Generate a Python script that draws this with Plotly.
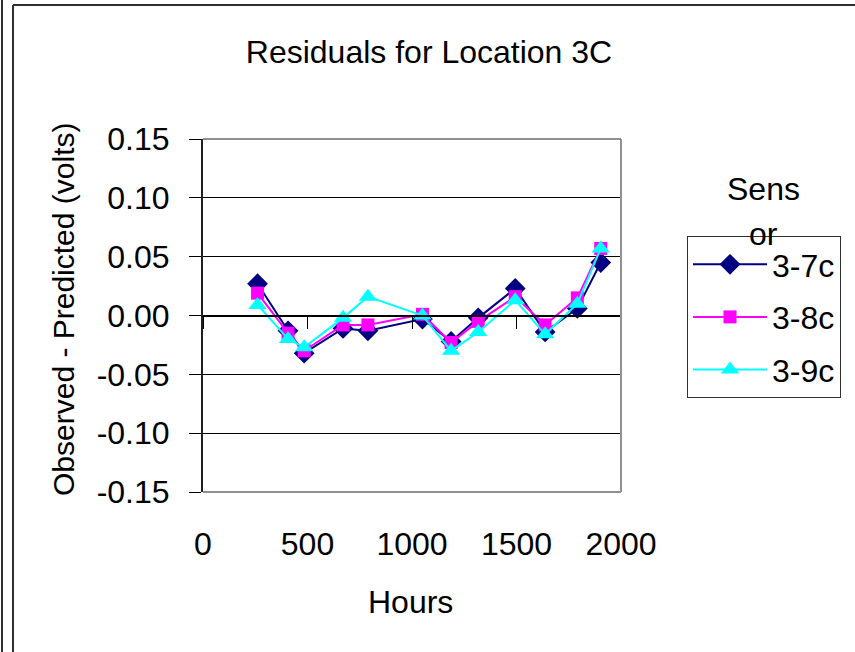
import plotly.graph_objects as go

hours = [261, 407, 484, 670, 789, 1050, 1187, 1317, 1494, 1637, 1791, 1903]
s37 = [0.027, -0.013, -0.032, -0.011, -0.013, -0.003, -0.022, -0.002, 0.023, -0.014, 0.006, 0.045]
s38 = [0.019, -0.015, -0.030, -0.008, -0.008, 0.001, -0.023, -0.005, 0.016, -0.008, 0.015, 0.057]
s39 = [0.009, -0.020, -0.027, -0.002, 0.016, 0.000, -0.030, -0.014, 0.013, -0.016, 0.010, 0.057]
series_names = ["3-7c", "3-8c", "3-9c"]
x_ticks = [0, 500, 1000, 1500, 2000]
y_ticks = [-0.15, -0.10, -0.05, 0.00, 0.05, 0.10, 0.15]
y_ticktext = ["-0.15", "-0.10", "-0.05", "0.00", "0.05", "0.10", "0.15"]

W, H = 855, 652
L, R, T, B = 203, 621, 139, 492
FONT = "Liberation Sans, Arial, sans-serif"
FS = 32


def px_x(p):
    return (p - L) / (R - L)


def px_y(p):
    return (B - p) / (B - T)


fig = go.Figure()
styles = [
    dict(color="#000080", symbol="diamond", size=16),
    dict(color="#FF00FF", symbol="square", size=13),
    dict(color="#00FFFF", symbol="triangle-up", size=16),
]
for i, (name, ys) in enumerate(zip(series_names, [s37, s38, s39])):
    st = styles[i]
    fig.add_trace(go.Scatter(
        x=hours, y=ys, name=name, mode="lines+markers",
        line=dict(color=st["color"], width=2),
        marker=dict(color=st["color"], symbol=st["symbol"], size=st["size"], line=dict(width=0)),
        legendgroup=name,
    ))

# dummy trace so the zero-crossing axis is drawn
fig.add_trace(go.Scatter(x=[], y=[], xaxis="x2", showlegend=False, hoverinfo="skip"))

fig.update_layout(
    width=W, height=H,
    margin=dict(l=L, r=W - R, t=T, b=H - B, pad=0),
    paper_bgcolor="white", plot_bgcolor="white",
    font=dict(family=FONT, size=FS, color="black"),
    showlegend=True,
    title=dict(text="Residuals for Location 3C", x=px_x(429), xref="paper", xanchor="center",
               y=1 - 52 / H, yref="container", yanchor="middle",
               font=dict(family=FONT, size=FS, color="black")),
    xaxis=dict(range=[0, 2000], tickvals=x_ticks, ticktext=[str(v) for v in x_ticks],
               showgrid=False, zeroline=False, showline=False, ticks="",
               ticklabelstandoff=30, tickfont=dict(size=FS)),
    xaxis2=dict(range=[0, 2000], overlaying="x", anchor="free", position=0.5,
                tickvals=x_ticks, showticklabels=False, showgrid=False, zeroline=False,
                showline=True, linecolor="black", linewidth=2,
                ticks="outside", ticklen=12, tickwidth=1, tickcolor="black"),
    yaxis=dict(range=[-0.15, 0.15], tickvals=y_ticks, ticktext=y_ticktext,
               showgrid=True, gridcolor="black", gridwidth=1, zeroline=False,
               showline=True, linecolor="#202020", linewidth=2,
               ticks="outside", ticklen=12, tickwidth=1, tickcolor="black",
               ticklabelstandoff=13, tickfont=dict(size=FS)),
    legend=dict(x=px_x(687), y=px_y(236), xanchor="left", yanchor="top",
                bgcolor="white", bordercolor="#303030", borderwidth=1,
                font=dict(family=FONT, size=FS, color="black"),
                itemwidth=74, tracegroupgap=8, traceorder="grouped"),
)

shapes = []
# plot-area gray border (top, right, bottom)
for x0, y0, x1, y1 in [(0, 1, 1, 1), (1, 0, 1, 1), (0, 0, 1, 0)]:
    shapes.append(dict(type="line", xref="paper", yref="paper", x0=x0, y0=y0, x1=x1, y1=y1,
                       line=dict(color="#909090", width=2), layer="above"))
# outer chart-area border
shapes.append(dict(type="line", xref="paper", yref="paper", x0=px_x(13), y0=px_y(5), x1=px_x(13), y1=px_y(H),
                   line=dict(color="#303030", width=2)))
shapes.append(dict(type="line", xref="paper", yref="paper", x0=px_x(13), y0=px_y(5), x1=px_x(W), y1=px_y(5),
                   line=dict(color="#303030", width=2)))
shapes.append(dict(type="line", xref="paper", yref="paper", x0=px_x(2), y0=px_y(0), x1=px_x(2), y1=px_y(H),
                   line=dict(color="#303030", width=2)))
fig.update_layout(shapes=shapes)

annotations = [
    dict(text="Observed - Predicted (volts)", textangle=-90, xref="paper", yref="paper",
         x=px_x(63), y=px_y(310), xanchor="center", yanchor="middle", showarrow=False,
         font=dict(family=FONT, size=30, color="black")),
    dict(text="Hours", xref="paper", yref="paper", x=px_x(410), y=px_y(602),
         xanchor="center", yanchor="middle", showarrow=False,
         font=dict(family=FONT, size=FS, color="black")),
    dict(text="Sens", xref="paper", yref="paper", x=px_x(763), y=px_y(189),
         xanchor="center", yanchor="middle", showarrow=False,
         font=dict(family=FONT, size=FS, color="black")),
    dict(text="or", xref="paper", yref="paper", x=px_x(763), y=px_y(234),
         xanchor="center", yanchor="middle", showarrow=False,
         font=dict(family=FONT, size=FS, color="black")),
]
fig.update_layout(annotations=annotations)

fig.write_html("out.html")
